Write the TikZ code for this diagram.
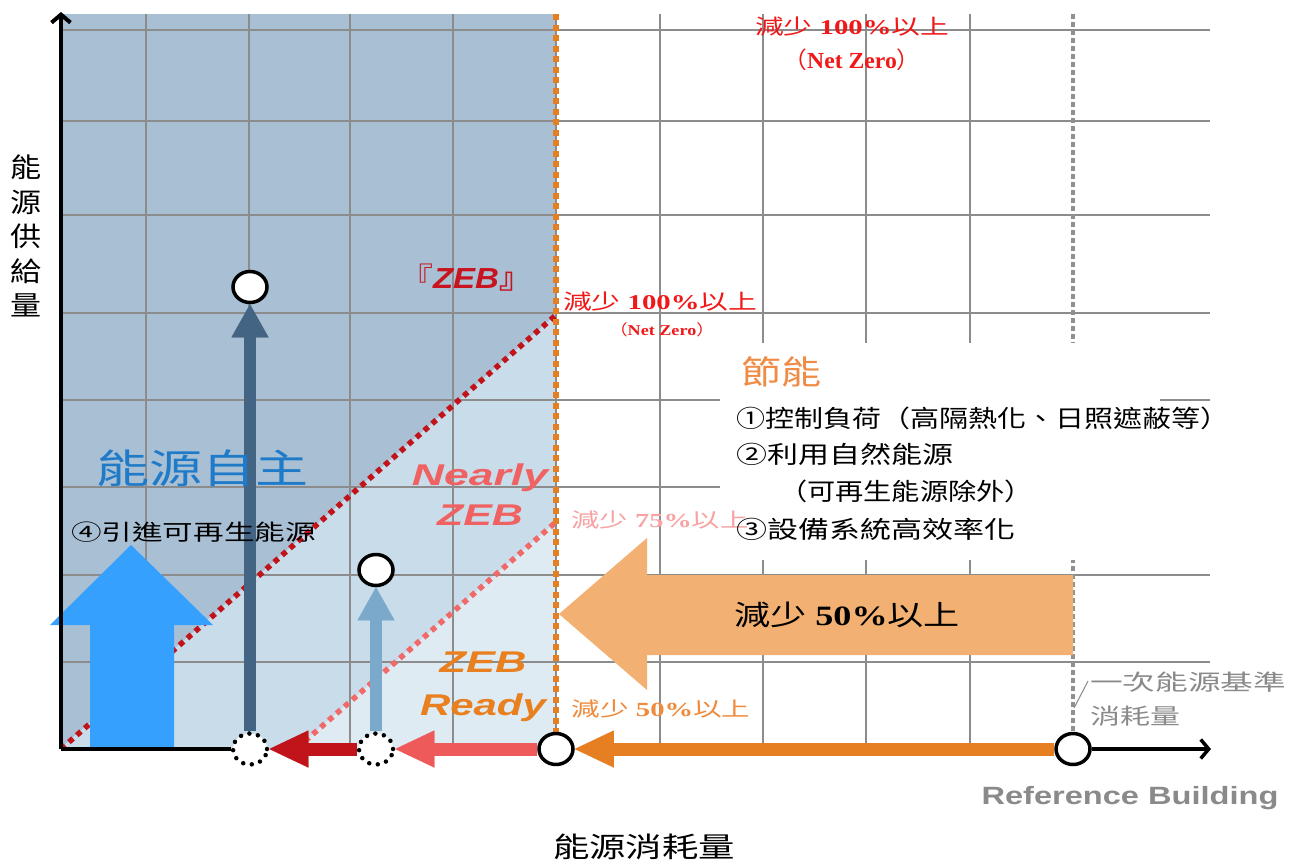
\documentclass[tikz,border=0pt]{standalone}
\usepackage{fontspec}
\setmainfont{Liberation Serif}
\newfontfamily\cjk{Noto Sans CJK TC}
\newfontfamily\arialf{Liberation Sans}
\usetikzlibrary{arrows.meta,shapes.geometric}
\definecolor{shadeA}{HTML}{A9BFD4}
\definecolor{shadeB}{HTML}{C9DCEA}
\definecolor{shadeC}{HTML}{DFEBF3}
\definecolor{gridc}{HTML}{8C8C8C}
\definecolor{orng}{HTML}{E67E22}
\definecolor{lorng}{HTML}{F2B172}
\definecolor{pinkc}{HTML}{EE5A5A}
\definecolor{pinkd}{HTML}{F06A6A}
\definecolor{dred}{HTML}{C0141A}
\definecolor{slate}{HTML}{436482}
\definecolor{lblue}{HTML}{7BA9CC}
\definecolor{bblue}{HTML}{36A0FE}
\definecolor{tblue}{HTML}{1F7BC8}
\definecolor{zred}{HTML}{C8141E}
\definecolor{npink}{HTML}{F06262}
\definecolor{zorng}{HTML}{E9801F}
\definecolor{lpink}{HTML}{F7A3A3}
\definecolor{sorng}{HTML}{F08A3C}
\definecolor{torng}{HTML}{F08B45}
\definecolor{gtext}{HTML}{8A8A8A}
\definecolor{gdot}{HTML}{909090}
\definecolor{rtext}{HTML}{F01818}
\newcommand\fitw[2]{\resizebox{#1pt}{\height}{#2}}
\newcommand\fs[1]{\fontsize{#1}{#1}\selectfont}
\newcommand\sxv[1]{\scalebox{1.15}[1]{#1}}
\pgfdeclarelayer{back}
\pgfdeclarelayer{mid}
\pgfsetlayers{back,mid,main}
\begin{document}
\begin{tikzpicture}[x=1pt,y=-1pt,
  gridline/.style={draw=gridc, line width=1.8pt},
  lbl/.style={inner sep=0pt, outer sep=0pt},
  ptcirc/.style={ellipse, draw=black, line width=3.5pt, fill=white, minimum width=34pt, minimum height=31pt, inner sep=0pt},
  ptdot/.style={ptcirc, line width=4.5pt, dash pattern=on 0pt off 8.7pt, line cap=round},
  vfat/.style={line width=12pt, -{Triangle[length=33pt,width=37pt,line width=0.01pt]}},
  hfat/.style={line width=13pt, -{Triangle[length=39pt,width=37pt,line width=0.01pt]}},
  axisline/.style={line width=4pt},
  barb/.style={-{Straight Barb[length=8pt,width=19pt]}},
  sqdots/.style={line width=5.5pt, dash pattern=on 5.5pt off 5pt},
]
\useasboundingbox (0,0) rectangle (1289,862);

% points
\coordinate (O) at (61,749);
\coordinate (ytop) at (61,12);
\coordinate (xend) at (1211,749);
\node[ptdot] (p0) at (250,749) {};
\node[ptdot] (p1) at (376,749) {};
\node[ptcirc] (p2) at (556,749) {};
\node[ptcirc] (p3) at (1073,749) {};
\node[ptcirc] (q0) at (250,287) {};
\node[ptcirc] (q1) at (376,570) {};

\begin{pgfonlayer}{back}
  \fill[white] (0,0) rectangle (1289,862);
  \fill[shadeA] (61,14) -- (556,14) -- (556,315) -- (61,748) -- cycle;
  \fill[shadeB] (61,748) -- (556,315) -- (556,522) -- (297,748) -- cycle;
  \fill[shadeC] (297,748) -- (556,522) -- (556,748) -- cycle;
  \foreach \y in {30,121,215,313,400,487,575,662}
    \draw[gridline] (61,\y) -- (1210,\y);
  \foreach \x in {146,249,350,453,556,660,763,866,970}
    \draw[gridline] (\x,14) -- (\x,748);
  \draw[dred, sqdots] (O) -- (556,315);
  \draw[pinkd, sqdots] (297,748) -- (556,522);
  \draw[orng, line width=6pt, dash pattern=on 6pt off 4.5pt] (556,14) -- (p2.north);
  \draw[gdot, line width=4.5pt, dash pattern=on 4.5pt off 3.5pt] (1073,14) -- (p3.north);
  \fill[white] (720,343) rectangle (1160,560);
  \fill[white] (1160,405) rectangle (1234,560);
\end{pgfonlayer}

\begin{pgfonlayer}{mid}
  \fill[lorng] (559,614) -- (647,538) -- (647,575) -- (1073,575) -- (1073,655) -- (647,655) -- (647,690) -- cycle;
  \fill[bblue] (90,748) -- (90,625) -- (50,625) -- (131,545) -- (213,625) -- (174,625) -- (174,748) -- cycle;
  \draw[axisline, barb] (O) -- (ytop);
  \draw[axisline] (O) -- (p0);
  \draw[line width=3.5pt, barb] (p3) -- (xend);
  \draw[vfat, slate] (p0) -- (q0);
  \draw[vfat, lblue] (p1) -- (q1);
  \draw[hfat, orng] (p3) -- (p2);
  \draw[hfat, pinkc] (p2) -- (p1);
  \draw[hfat, dred] (p1) -- (p0);
  \draw[gtext, line width=1pt] (1088,681) -- (1074,708);
\end{pgfonlayer}

% texts
\node[lbl, align=center, font=\cjk\fontsize{27}{34.5}\selectfont] (ylab) at (26,236) {\sxv{能}\\\sxv{源}\\\sxv{供}\\\sxv{給}\\\sxv{量}};
\node[lbl] (xlab) at (644,847) {\fitw{182}{\cjk\fs{28}能源消耗量}};
\node[lbl, text=gtext, anchor=base] (refb) at (1130,804) {\fitw{297}{\arialf\bfseries\fs{25}Reference Building}};
\node[lbl, text=gtext] (ref1) at (1188,682) {\fitw{196}{\cjk\fs{22}一次能源基準}};
\node[lbl, text=gtext, anchor=west] (ref2) at (1090,716) {\fitw{90}{\cjk\fs{22}消耗量}};

\node[lbl, text=rtext] (t100a) at (852,27) {\fitw{194}{\fs{21}{\cjk 減少} \textbf{100\%}{\cjk 以上}}};
\node[lbl, text=rtext] (t100b) at (852,60) {\fitw{137}{\fs{23}{\cjk （}\textbf{Net Zero}{\cjk ）}}};
\node[lbl, text=rtext] (t100c) at (660,302) {\fitw{194}{\fs{21}{\cjk 減少} \textbf{100\%}{\cjk 以上}}};
\node[lbl, text=rtext] (t100d) at (662,330) {\fitw{105}{\fs{15}{\cjk （}\textbf{Net Zero}{\cjk ）}}};
\node[lbl, text=lpink] (t75) at (660,520) {\fitw{177}{\fs{20}{\cjk 減少} \textbf{75\%}{\cjk 以上}}};
\node[lbl, text=sorng] (t50s) at (661,709) {\fitw{179}{\fs{20}{\cjk 減少} \textbf{50\%}{\cjk 以上}}};
\node[lbl, text=black] (t50b) at (847,615) {\fitw{226}{\fs{28}{\cjk 減少} \textbf{50\%}{\cjk 以上}}};

\node[lbl, text=zred, anchor=base] (zeb) at (466,288) {\fitw{132}{\fs{29}{\cjk 『}\arialf\bfseries\itshape ZEB{\cjk 』}}};
\node[lbl, text=npink, anchor=base] (nz1) at (480,485) {\fitw{136}{\arialf\bfseries\itshape\fs{30}Nearly}};
\node[lbl, text=npink, anchor=base] (nz2) at (480,525) {\fitw{86}{\arialf\bfseries\itshape\fs{30}ZEB}};
\node[lbl, text=zorng, anchor=base] (zr1) at (483,672) {\fitw{87}{\arialf\bfseries\itshape\fs{30}ZEB}};
\node[lbl, text=zorng, anchor=base] (zr2) at (483,715) {\fitw{126}{\arialf\bfseries\itshape\fs{30}Ready}};

\node[lbl, text=tblue] (jz) at (202,468) {\fitw{212}{\cjk\fs{40}能源自主}};
\node[lbl, anchor=west] (r4) at (71,532) {\fitw{245}{\cjk\fs{22}④引進可再生能源}};

\node[lbl, text=torng, anchor=west] (sn) at (741,372) {\fitw{80}{\cjk\fs{33}節能}};
\node[lbl, anchor=west] (l1) at (736,418) {\fitw{493}{\cjk\fs{24}①控制負荷（高隔熱化、日照遮蔽等）}};
\node[lbl, anchor=west] (l2) at (736,454) {\fitw{217}{\cjk\fs{24}②利用自然能源}};
\node[lbl, anchor=west] (l3) at (779,491) {\fitw{254}{\cjk\fs{24}（可再生能源除外）}};
\node[lbl, anchor=west] (l4) at (736,529) {\fitw{279}{\cjk\fs{24}③設備系統高效率化}};
\end{tikzpicture}
\end{document}
